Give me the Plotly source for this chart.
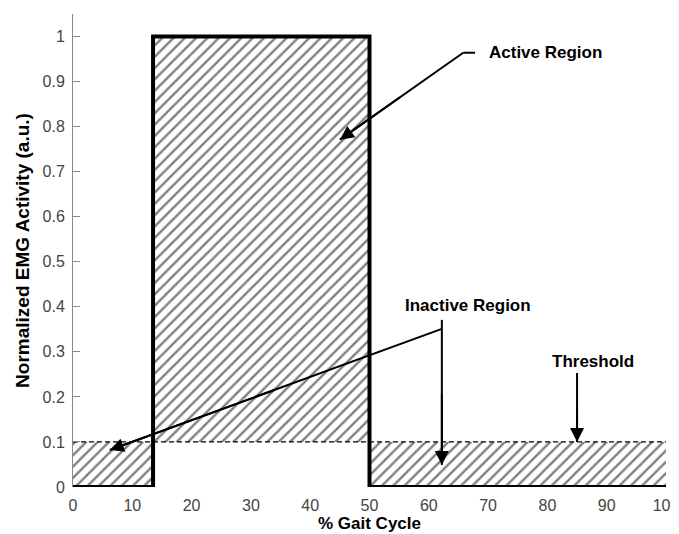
import plotly.graph_objects as go

# ---- data ----
onset = 13.5
offset = 50
threshold = 0.1
step_x = [0, onset, onset, offset, offset, 100]
step_y = [0, 0, 1, 1, 0, 0]
active_x = [onset, offset, offset, onset, onset]
active_y = [threshold, threshold, 1, 1, threshold]
inactive1_x = [0, onset, onset, 0, 0]
inactive1_y = [0, 0, threshold, threshold, 0]
inactive2_x = [offset, 100, 100, offset, offset]
inactive2_y = [0, 0, threshold, threshold, 0]
x_ticks = [0, 10, 20, 30, 40, 50, 60, 70, 80, 90, 100]
y_ticks = [0, 0.1, 0.2, 0.3, 0.4, 0.5, 0.6, 0.7, 0.8, 0.9, 1]
y_ticklabels = ["0", "0.1", "0.2", "0.3", "0.4", "0.5", "0.6", "0.7", "0.8", "0.9", "1"]

FONT = "Liberation Sans, Arial, sans-serif"
hatch = dict(shape="/", fgcolor="black", bgcolor="white", size=8, solidity=0.3)

fig = go.Figure()
for xs, ys in [(active_x, active_y), (inactive1_x, inactive1_y), (inactive2_x, inactive2_y)]:
    fig.add_trace(go.Scatter(x=xs, y=ys, mode="lines", fill="toself", fillcolor="white",
                             fillpattern=hatch, line=dict(width=0), hoverinfo="skip",
                             showlegend=False))
# threshold dashed line
fig.add_trace(go.Scatter(x=[0, 100], y=[threshold, threshold], mode="lines",
                         line=dict(color="black", width=1.2, dash="5px,3px"),
                         showlegend=False, hoverinfo="skip"))
# step signal
fig.add_trace(go.Scatter(x=step_x, y=step_y, mode="lines",
                         line=dict(color="black", width=4, shape="linear"),
                         cliponaxis=False, showlegend=False))


def arrow(path, tip):
    """Polyline leader (list of points) ending at tip with a filled arrowhead."""
    pts = path + [tip]
    for (x0, y0), (x1, y1) in zip(pts[:-1], pts[1:]):
        fig.add_shape(type="line", x0=x0, y0=y0, x1=x1, y1=y1, xref="x", yref="y",
                      line=dict(color="black", width=2))
    (x0, y0) = pts[-2]
    (x1, y1) = tip
    fig.add_annotation(x=x1, y=y1, ax=x1 + (x0 - x1) * 0.5, ay=y1 + (y0 - y1) * 0.5,
                       axref="x", ayref="y", xref="x", yref="y", text="",
                       showarrow=True, arrowhead=2, arrowsize=1.4, arrowwidth=2,
                       arrowcolor="black", standoff=0)


# Active region
arrow([(67.8, 0.964), (65.8, 0.964)], (45.0, 0.771))
fig.add_annotation(x=69.8, y=0.964, text="<b>Active Region</b>", showarrow=False,
                   xanchor="left", yanchor="middle", font=dict(size=17, family=FONT, color="black"))
# Inactive region
arrow([(62.2, 0.371)], (62.2, 0.049))
arrow([(62.2, 0.351)], (6.2, 0.082))
fig.add_annotation(x=55.6, y=0.404, text="<b>Inactive Region</b>", showarrow=False,
                   xanchor="left", yanchor="middle", font=dict(size=17, family=FONT, color="black"))
# Threshold
arrow([(85.0, 0.253)], (85.0, 0.1))
fig.add_annotation(x=80.4, y=0.278, text="<b>Threshold</b>", showarrow=False,
                   xanchor="left", yanchor="middle", font=dict(size=17, family=FONT, color="black"))

fig.update_layout(
    width=679, height=534,
    margin=dict(l=65, r=21, t=6, b=55, autoexpand=False),
    plot_bgcolor="white", paper_bgcolor="white",
    font=dict(family=FONT, color="#333"),
    xaxis=dict(range=[0, 100], tickvals=x_ticks, ticks="outside", ticklen=4,
               tickcolor="rgba(0,0,0,0)", showline=False, showgrid=False,
               zeroline=False, tickfont=dict(size=16, color="#444"), ticklabeloverflow="allow",
               automargin=False,
               title=dict(text="<b>% Gait Cycle</b>", font=dict(size=17, color="black"), standoff=2)),
    yaxis=dict(range=[0, 1.05], tickvals=y_ticks, ticktext=y_ticklabels, ticks="inside",
               ticklen=7, tickcolor="#888", showline=True, linecolor="#888", linewidth=1,
               showgrid=False, zeroline=False, tickfont=dict(size=16, color="#444"),
               ticklabelstandoff=4, automargin=False,
               title=dict(text="<b>Normalized EMG Activity (a.u.)</b>",
                          font=dict(size=19, color="black"), standoff=7)),
)
fig.write_html("out.html")
